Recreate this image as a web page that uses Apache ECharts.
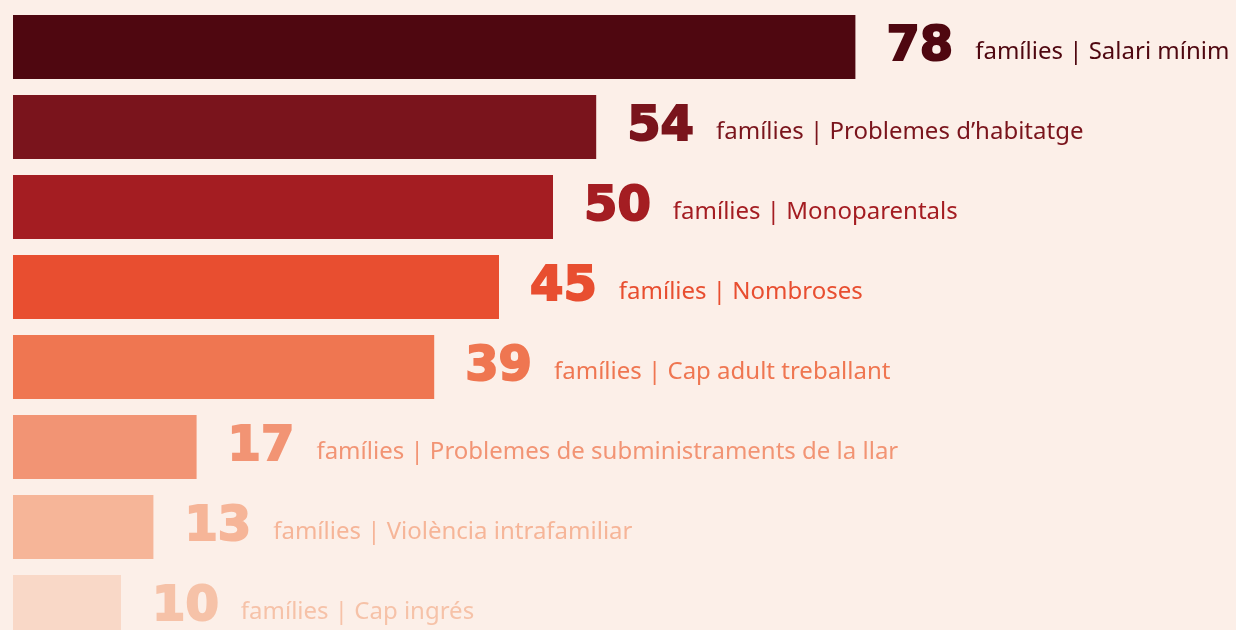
<!DOCTYPE html>
<html>
<head>
<meta charset="utf-8">
<script src="https://cdn.jsdelivr.net/npm/echarts@6/dist/echarts.min.js"></script>
<style>
  html, body { margin: 0; padding: 0; background: #fcefe8; }
  #chart { width: 1236px; height: 630px; }
</style>
</head>
<body>
<div id="chart"></div>
<script>
var categories = [
  "Salari mínim",
  "Problemes d’habitatge",
  "Monoparentals",
  "Nombroses",
  "Cap adult treballant",
  "Problemes de subministraments de la llar",
  "Violència intrafamiliar",
  "Cap ingrés"
];
var values = [78, 54, 50, 45, 39, 17, 13, 10];
var colors = ["#4f0710", "#7a141c", "#a41d22", "#e84e30", "#ef7651", "#f29474", "#f6b598", "#f9d8c7"];
var textColors = ["#4f0710", "#7a141c", "#a41d22", "#e84e30", "#ef7651", "#f29474", "#f6b598", "#f6c2a8"];

var chart = echarts.init(document.getElementById("chart"));

var seriesData = values.map(function (v, i) {
  return {
    value: v,
    itemStyle: { color: colors[i] },
    label: {
      rich: {
        n: {
          fontFamily: "DejaVu Sans",
          fontWeight: "bold",
          fontSize: 48,
          color: textColors[i],
          textBorderColor: textColors[i],
          textBorderWidth: 2,
          verticalAlign: "bottom",
          lineHeight: 50,
          padding: [0, 22, 0, 0]
        },
        t: {
          fontFamily: "Noto Sans",
          fontSize: 24,
          color: textColors[i],
          verticalAlign: "bottom",
          lineHeight: 36,
          padding: [0, 0, 8, 0]
        }
      }
    }
  };
});

chart.setOption({
  backgroundColor: "#fcefe8",
  animation: false,
  grid: { left: 13, right: 143, top: 7, height: 640, outerBoundsMode: "none" },
  xAxis: {
    type: "value",
    min: 0,
    max: 100,
    show: false
  },
  yAxis: {
    type: "category",
    data: categories,
    inverse: true,
    show: false
  },
  series: [
    {
      type: "bar",
      data: seriesData,
      barWidth: 64,
      label: {
        show: true,
        position: "right",
        distance: 31,
        formatter: function (p) {
          return "{n|" + p.value + "}{t|famílies | " + p.name + "}";
        }
      }
    }
  ]
});
</script>
</body>
</html>
